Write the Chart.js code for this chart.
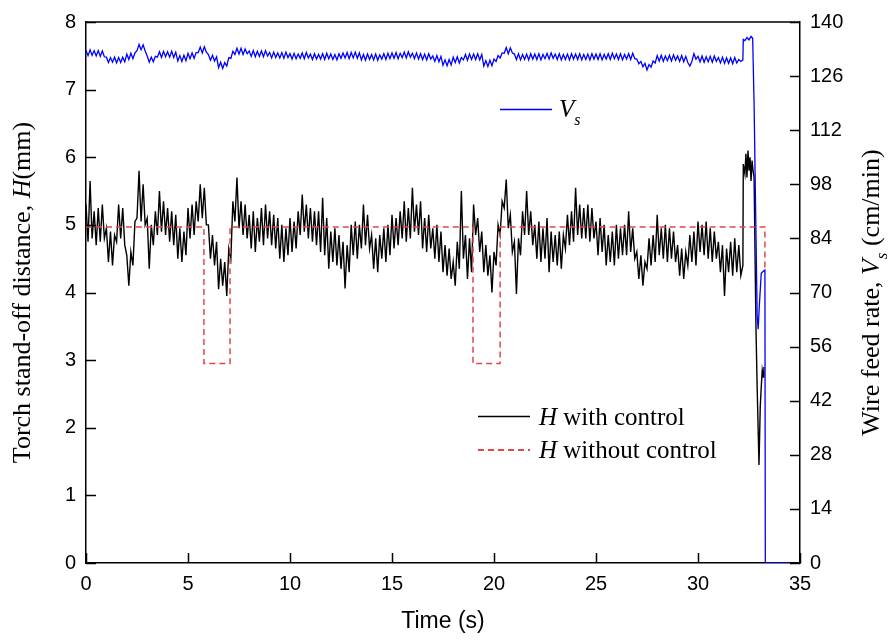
<!DOCTYPE html>
<html>
<head>
<meta charset="utf-8">
<script src="https://cdn.jsdelivr.net/npm/chart.js@4/dist/chart.umd.min.js"></script>
<style>
  html, body { margin: 0; padding: 0; background: #fff; }
  #wrap { width: 896px; height: 642px; }
</style>
</head>
<body>
<div id="wrap"><canvas id="grafico" width="896" height="642"></canvas></div>
<script>
// tick labels
const xTicks = [0, 5, 10, 15, 20, 25, 30, 35];
const hTicks = [0, 1, 2, 3, 4, 5, 6, 7, 8];
const vTicks = [0, 14, 28, 42, 56, 70, 84, 98, 112, 126, 140];

// H with control (mm), sampled every 0.1 s from 0 to 32.1 s
const hStep = 0.1;
const hMain = [
  5.3, 4.75, 5.65, 4.8, 5.2,    4.7, 5.25, 4.75, 5.3, 4.8,
  4.95, 4.45, 4.9, 4.4, 4.85,   4.75, 5.3, 4.8, 5.25, 4.7,
  4.55, 4.1, 4.6, 4.4, 5.05,    5.1, 5.8, 5.05, 5.6, 5.0,
  5.1, 4.35, 5.0, 4.7, 5.2,     4.85, 5.5, 4.9, 5.35, 4.85,
  5.25, 4.75, 5.2, 4.7, 5.15,   4.5, 4.95, 4.45, 4.9, 4.55,
  5.25, 4.8, 5.3, 4.85, 5.35,   5.05, 5.6, 5.1, 5.55, 5.0,
  5.0, 4.5, 4.85, 4.4, 4.75,    4.05, 4.5, 4.1, 4.45, 3.95,
  4.65, 4.5, 5.35, 5.05, 5.7,   4.95, 5.35, 4.85, 5.3, 4.8,
  5.15, 4.65, 5.2, 4.6, 5.1,    4.75, 5.25, 4.7, 5.3, 4.8,
  5.2, 4.7, 5.15, 4.65, 5.1,    4.5, 5.0, 4.45, 4.95, 4.55,
  5.1, 4.6, 5.05, 4.65, 5.2,    4.85, 5.45, 4.9, 5.3, 4.8,
  5.25, 4.75, 5.2, 4.7, 5.2,    4.6, 5.4, 4.55, 5.1, 4.35,
  4.9, 4.45, 4.95, 4.4, 4.85,   4.35, 4.75, 4.06, 4.7, 4.3,
  5.0, 4.55, 5.05, 4.5, 5.0,    4.65, 5.3, 4.7, 5.15, 4.65,
  4.85, 4.35, 4.8, 4.3, 4.85,   4.5, 4.95, 4.45, 5.0, 4.55,
  5.15, 4.65, 5.1, 4.7, 5.2,    4.8, 5.35, 4.75, 5.25, 4.8,
  5.55, 4.9, 5.3, 4.85, 5.35,   4.65, 5.1, 4.6, 5.15, 4.65,
  4.95, 4.5, 5.0, 4.45, 4.9,    4.3, 4.7, 4.25, 4.65, 4.2,
  4.45, 4.1, 4.75, 4.35, 5.5,   4.5, 4.85, 4.2, 4.8, 4.3,
  5.3, 4.85, 5.1, 4.6, 4.9,     4.3, 4.7, 4.25, 4.55, 4.0,
  4.6, 4.4, 5.0, 4.85, 5.35,    5.25, 5.67, 4.95, 5.15, 4.6,
  4.75, 3.98, 4.8, 4.55, 5.2,   4.85, 5.5, 4.85, 5.2, 4.7,
  5.0, 4.5, 5.05, 4.45, 4.95,   4.5, 5.1, 4.3, 4.9, 4.45,
  4.85, 4.4, 4.9, 4.35, 4.85,   4.65, 5.15, 4.7, 5.2, 4.75,
  5.55, 4.85, 5.3, 4.8, 5.25,   4.8, 5.3, 4.75, 5.25, 4.8,
  5.05, 4.55, 5.1, 4.6, 5.0,    4.4, 4.85, 4.45, 4.9, 4.4,
  5.0, 4.5, 4.95, 4.55, 5.0,    4.55, 5.2, 4.6, 4.95, 4.5,
  4.6, 4.2, 4.55, 4.1, 4.45,    4.35, 4.8, 4.4, 4.85, 4.45,
  5.15, 4.55, 4.95, 4.5, 5.0,   4.45, 4.95, 4.5, 4.9, 4.45,
  4.7, 4.25, 4.65, 4.2, 4.6,    4.4, 4.85, 4.45, 4.9, 4.4,
  5.05, 4.6, 5.0, 4.55, 5.05,   4.5, 4.95, 4.45, 4.9, 4.5,
  4.75, 4.3, 4.7, 3.95, 4.65,   4.3, 4.75, 4.25, 4.8, 4.3,
  4.7, 4.25
];
// H with control, end of the run
const hEndTime = [32.2, 32.22, 32.3, 32.35, 32.4, 32.45, 32.5, 32.55, 32.6, 32.65, 32.7, 32.75, 32.84, 32.9, 32.99, 33.05, 33.1, 33.15, 33.2, 33.23];
const hEndValue = [4.4, 5.9, 5.75, 6.05, 5.7, 6.1, 5.8, 6.0, 5.65, 5.95, 5.8, 5.7, 3.5, 2.6, 1.45, 2.3, 2.6, 2.85, 2.75, 2.9];

// H without control (mm)
const refTime = [0, 5.78, 5.78, 7.06, 7.06, 18.97, 18.97, 20.3, 20.3, 33.28, 33.28];
const refValue = [4.97, 4.97, 2.95, 2.95, 4.97, 4.97, 2.95, 2.95, 4.97, 4.97, 4.32];

// Vs wire feed rate (cm/min), sampled every 0.1 s from 0 to 32 s
const vStep = 0.1;
const vMain = [
  132.7, 131.3, 132.8, 131.4, 132.6,  131.2, 132.6, 131.1, 132.5, 131.0,
  130.9, 129.5, 130.8, 129.6, 130.9,  129.4, 130.8, 129.5, 130.9, 129.7,
  131.7, 130.3, 131.9, 130.5, 132.0,  132.6, 134.2, 132.8, 134.1, 132.5,
  131.2, 129.6, 130.9, 129.7, 131.1,  130.9, 132.3, 130.8, 132.4, 131.0,
  132.3, 130.9, 132.4, 130.8, 132.2,  129.9, 131.3, 129.8, 131.4, 130.0,
  131.9, 130.5, 132.0, 130.6, 132.1,  132.1, 133.5, 132.0, 133.6, 132.2,
  131.6, 130.1, 131.4, 129.9, 131.0,  128.2, 129.6, 128.0, 129.5, 128.6,
  130.8, 130.6, 132.4, 131.6, 133.2,  131.7, 133.2, 131.6, 133.0, 131.8,
  132.5, 131.1, 132.6, 131.0, 132.4,  131.1, 132.5, 131.0, 132.6, 131.2,
  132.1, 130.7, 132.2, 130.8, 132.0,  130.7, 132.1, 130.6, 132.2, 130.8,
  131.8, 130.4, 131.9, 130.5, 131.7,  130.6, 132.0, 130.5, 132.1, 130.7,
  131.7, 130.3, 131.8, 130.4, 131.6,  130.4, 131.8, 130.3, 131.9, 130.5,
  131.7, 130.3, 131.6, 130.2, 131.8,  130.6, 132.0, 130.7, 132.1, 130.5,
  132.1, 130.7, 132.2, 130.6, 132.0,  130.2, 131.6, 130.1, 131.7, 130.3,
  131.6, 130.2, 131.7, 130.1, 131.5,  130.4, 131.8, 130.3, 131.9, 130.5,
  132.0, 130.6, 132.1, 130.5, 131.9,  130.8, 132.2, 130.7, 132.3, 130.9,
  131.9, 130.5, 132.0, 130.4, 131.8,  130.3, 131.7, 130.2, 131.8, 130.4,
  131.2, 129.8, 131.3, 129.7, 131.1,  128.8, 130.2, 128.7, 130.3, 128.9,
  130.9, 129.5, 131.0, 129.4, 130.8,  130.2, 131.6, 130.1, 131.7, 130.3,
  131.7, 130.3, 131.8, 130.2, 131.6,  128.6, 130.0, 128.5, 130.1, 128.7,
  130.4, 129.8, 131.3, 130.7, 132.0,  131.9, 133.4, 131.8, 133.3, 132.0,
  131.7, 130.3, 131.8, 130.2, 131.6,  130.3, 131.7, 130.2, 131.8, 130.4,
  131.7, 130.3, 131.8, 130.2, 131.6,  130.5, 131.9, 130.4, 132.0, 130.6,
  131.7, 130.3, 131.8, 130.2, 131.6,  130.3, 131.7, 130.2, 131.8, 130.4,
  131.7, 130.3, 131.8, 130.2, 131.6,  130.3, 131.7, 130.2, 131.8, 130.4,
  131.7, 130.3, 131.8, 130.2, 131.6,  130.4, 131.8, 130.3, 131.9, 130.5,
  131.7, 130.3, 131.8, 130.2, 131.6,  130.4, 131.8, 130.3, 131.9, 130.5,
  130.4, 129.2, 129.8, 128.4, 129.3,  127.6, 129.0, 128.3, 129.9, 129.4,
  131.3, 129.9, 131.4, 129.8, 131.2,  130.0, 131.4, 129.9, 131.5, 130.1,
  131.2, 129.8, 131.3, 129.7, 131.1,  129.5, 128.6, 129.8, 131.8, 130.4,
  131.1, 129.7, 131.2, 129.6, 131.0,  129.7, 131.1, 129.6, 131.2, 129.8,
  130.8, 129.4, 130.9, 129.3, 130.7,  129.3, 130.7, 129.2, 130.8, 129.4,
  130.3
];
const vEndTime = [32.1, 32.2, 32.22, 32.3, 32.4, 32.5, 32.6, 32.68, 32.75, 32.9, 32.95, 33.0, 33.1, 33.2, 33.28, 33.3, 34.5];
const vEndValue = [129.8, 130.2, 135.5, 135.2, 136.0, 135.4, 136.3, 135.8, 118.7, 64.0, 60.5, 66.0, 75.0, 75.5, 75.8, 0, 0];

const hData = hMain.map((v, i) => ({ x: +(i * hStep).toFixed(2), y: v }))
  .concat(hEndTime.map((t, i) => ({ x: t, y: hEndValue[i] })));
const refData = refTime.map((t, i) => ({ x: t, y: refValue[i] }));
const vData = vMain.map((v, i) => ({ x: +(i * vStep).toFixed(2), y: v }))
  .concat(vEndTime.map((t, i) => ({ x: t, y: vEndValue[i] })));

const SANS = "'Liberation Sans', Arial, sans-serif";
const SERIF = "'Liberation Serif', 'Times New Roman', serif";
const RED = '#e04848';
const BLUE = '#0000ff';

// text pieces: [text, 'i' italic | 'sub' italic subscript | '' roman]
function fontFor(style, size) {
  if (style === 'sub') return 'italic ' + Math.round(size * 0.65) + 'px ' + SERIF;
  if (style === 'i') return 'italic ' + size + 'px ' + SERIF;
  return size + 'px ' + SERIF;
}
function richWidth(ctx, parts, size) {
  let w = 0;
  parts.forEach(p => {
    ctx.font = fontFor(p[1], size);
    w += ctx.measureText(p[0]).width;
  });
  return w;
}
function drawRich(ctx, parts, x, y, size) {
  let cx = x;
  parts.forEach(p => {
    ctx.font = fontFor(p[1], size);
    const dy = p[1] === 'sub' ? size * 0.3 : 0;
    ctx.fillText(p[0], cx, y + dy);
    cx += ctx.measureText(p[0]).width;
  });
}

const decor = {
  id: 'decor',
  afterDatasetsDraw(chart) {
    const { ctx, chartArea: a, scales } = chart;
    ctx.save();
    // frame top and inward ticks
    ctx.strokeStyle = '#000';
    ctx.lineWidth = 1.5;
    ctx.beginPath();
    ctx.moveTo(a.left, a.top);
    ctx.lineTo(a.right, a.top);
    xTicks.forEach(v => {
      const px = Math.round(scales.x.getPixelForValue(v)) + 0.5;
      ctx.moveTo(px, a.bottom);
      ctx.lineTo(px, a.bottom - 10);
    });
    hTicks.forEach(v => {
      const py = Math.round(scales.y.getPixelForValue(v)) + 0.5;
      ctx.moveTo(a.left, py);
      ctx.lineTo(a.left + 10, py);
    });
    vTicks.forEach(v => {
      const py = Math.round(scales.y2.getPixelForValue(v)) + 0.5;
      ctx.moveTo(a.right, py);
      ctx.lineTo(a.right - 10, py);
    });
    ctx.stroke();

    ctx.fillStyle = '#000';
    ctx.textBaseline = 'alphabetic';

    // x title
    ctx.font = '23px ' + SANS;
    ctx.textAlign = 'center';
    ctx.fillText('Time (s)', (a.left + a.right) / 2, 628);
    ctx.textAlign = 'left';

    const midY = (a.top + a.bottom) / 2;
    // left title
    const leftParts = [['Torch stand-off distance, ', ''], ['H', 'i'], ['(mm)', '']];
    let w = richWidth(ctx, leftParts, 26);
    ctx.save();
    ctx.translate(30, midY);
    ctx.rotate(-Math.PI / 2);
    drawRich(ctx, leftParts, -w / 2, 0, 26);
    ctx.restore();

    // right title
    const rightParts = [['Wire feed rate, ', ''], ['V', 'i'], ['s', 'sub'], [' (cm/min)', '']];
    w = richWidth(ctx, rightParts, 26);
    ctx.save();
    ctx.translate(879, midY);
    ctx.rotate(-Math.PI / 2);
    drawRich(ctx, rightParts, -w / 2, 0, 26);
    ctx.restore();

    // legends
    ctx.lineWidth = 1.3;
    ctx.strokeStyle = BLUE;
    ctx.beginPath();
    ctx.moveTo(500, 109.5);
    ctx.lineTo(552, 109.5);
    ctx.stroke();
    drawRich(ctx, [['V', 'i'], ['s', 'sub']], 559, 117, 25);

    ctx.lineWidth = 1.3;
    ctx.strokeStyle = '#000';
    ctx.beginPath();
    ctx.moveTo(478, 416.5);
    ctx.lineTo(530, 416.5);
    ctx.stroke();
    drawRich(ctx, [['H', 'i'], [' with control', '']], 539, 425, 25);

    ctx.lineWidth = 2;
    ctx.strokeStyle = RED;
    ctx.setLineDash([6, 4]);
    ctx.beginPath();
    ctx.moveTo(478, 450);
    ctx.lineTo(530, 450);
    ctx.stroke();
    ctx.setLineDash([]);
    drawRich(ctx, [['H', 'i'], [' without control', '']], 539, 458, 25);

    ctx.restore();
  }
};

new Chart(document.getElementById('grafico'), {
  type: 'line',
  data: {
    datasets: [
      {
        label: 'Vs',
        data: vData,
        yAxisID: 'y2',
        borderColor: BLUE,
        borderWidth: 1.3,
        pointRadius: 0,
        order: 0
      },
      {
        label: 'H without control',
        data: refData,
        yAxisID: 'y',
        borderColor: RED,
        borderWidth: 1.5,
        borderDash: [6, 4],
        pointRadius: 0,
        order: 1
      },
      {
        label: 'H with control',
        data: hData,
        yAxisID: 'y',
        borderColor: '#000',
        borderWidth: 1.4,
        pointRadius: 0,
        order: 2
      }
    ]
  },
  options: {
    responsive: false,
    animation: false,
    events: [],
    layout: { padding: { top: 17, left: 0, right: 0, bottom: 0 } },
    plugins: { legend: { display: false }, tooltip: { enabled: false } },
    scales: {
      x: {
        type: 'linear',
        min: 0,
        max: 35,
        afterBuildTicks: s => { s.ticks = xTicks.map(v => ({ value: v })); },
        afterFit: s => { s.height = 79; },
        grid: { display: false, drawTicks: false },
        border: { display: true, color: '#000', width: 1.5 },
        ticks: { color: '#000', font: { family: SANS, size: 20 }, padding: 9, maxRotation: 0 }
      },
      y: {
        position: 'left',
        min: 0,
        max: 8,
        afterBuildTicks: s => { s.ticks = hTicks.map(v => ({ value: v })); },
        afterFit: s => { s.width = 86; },
        grid: { display: false, drawTicks: false },
        border: { display: true, color: '#000', width: 1.5 },
        ticks: { color: '#000', font: { family: SANS, size: 20 }, padding: 10 }
      },
      y2: {
        position: 'right',
        min: 0,
        max: 140,
        afterBuildTicks: s => { s.ticks = vTicks.map(v => ({ value: v })); },
        afterFit: s => { s.width = 96; },
        grid: { display: false, drawTicks: false },
        border: { display: true, color: '#000', width: 1.5 },
        ticks: { color: '#000', font: { family: SANS, size: 20 }, padding: 10 }
      }
    }
  },
  plugins: [decor]
});
</script>
</body>
</html>
